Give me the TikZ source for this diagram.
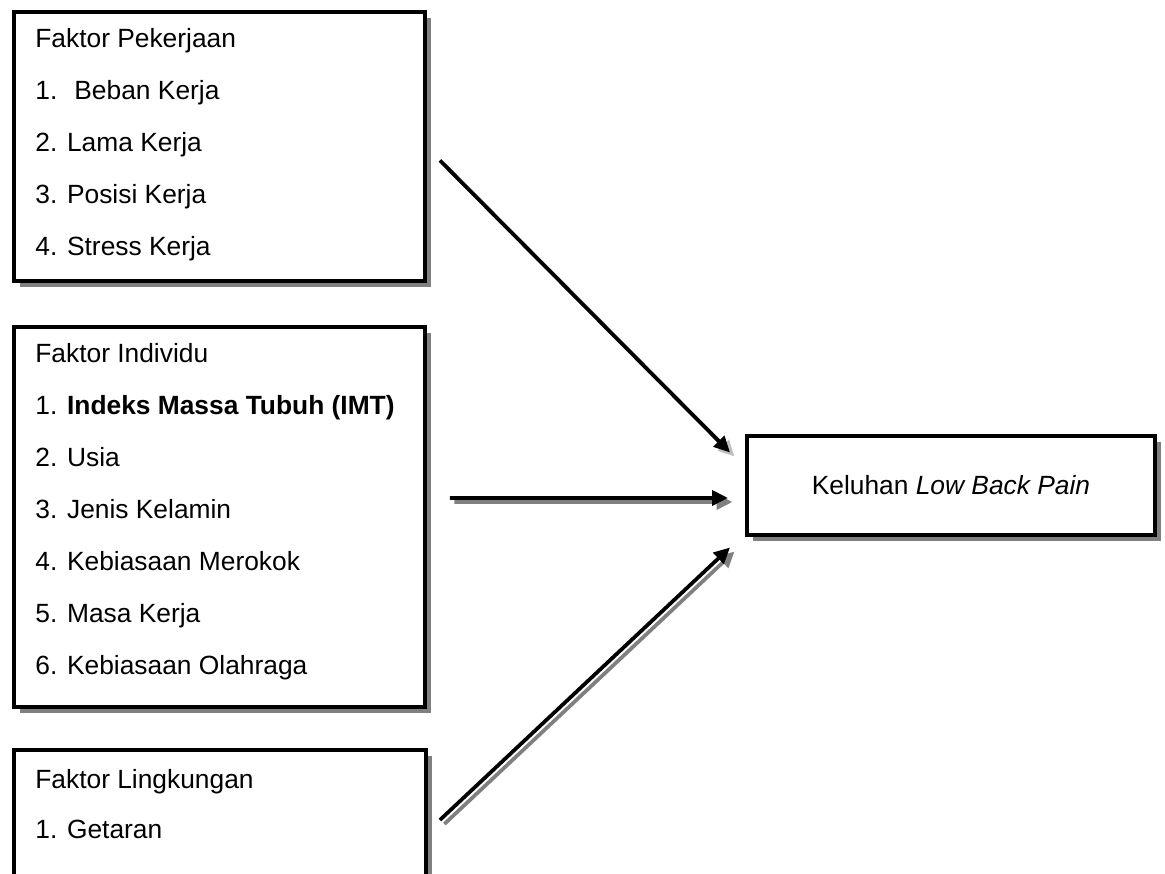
\documentclass[tikz,border=0pt]{standalone}
\usepackage{fontspec}
\setmainfont{Liberation Sans}
\usetikzlibrary{arrows.meta,shadows}
\begin{document}
\begin{tikzpicture}[x=0.02cm,y=-0.02cm,>={Triangle[length=0.32cm,width=0.3cm]},
    kotak/.style={draw,line width=0.08cm,fill=white,anchor=north west,inner sep=0pt,outer sep=0pt,
        drop shadow={shadow xshift=0.12cm,shadow yshift=-0.12cm,fill=gray,opacity=1}},
    baris/.style={anchor=base west,inner sep=0pt,font=\fontsize{15}{18}\selectfont},
    panah/.style={->,line width=0.075cm},
    bayang/.style={panah,draw=gray,fill=gray,transform canvas={xshift=0.09cm,yshift=-0.08cm}}]
    \useasboundingbox(0,0)rectangle(1165,874);
    % kotak faktor
    \node[kotak,minimum width=8.22cm,minimum height=5.38cm](pek)at(14,12){};
    \node[kotak,minimum width=8.22cm,minimum height=7.6cm](ind)at(14,327){};
    \node[kotak,minimum width=8.24cm,minimum height=2.8cm](lin)at(14,750){};
    \node[kotak,minimum width=8.16cm,minimum height=1.98cm,font=\fontsize{15}{18}\selectfont](kel)at(747,436){Keluhan \textit{Low Back Pain}};
    % isi kotak
    \foreach \t[count=\i] in {Faktor Pekerjaan,1.~ Beban Kerja,2. Lama Kerja,3. Posisi Kerja,4. Stress Kerja}
        \node[baris](p\i)at(35,{48+51.8*(\i-1)}){\t};
    \foreach \t[count=\i] in {Faktor Individu,{1. \textbf{Indeks Massa Tubuh (IMT)}},2. Usia,3. Jenis Kelamin,4. Kebiasaan Merokok,5. Masa Kerja,6. Kebiasaan Olahraga}
        \node[baris](n\i)at(35,{362+52*(\i-1)}){\t};
    \foreach \t[count=\i] in {Faktor Lingkungan,1. Getaran}
        \node[baris](l\i)at(35,{788+50*(\i-1)}){\t};
    % panah
    \coordinate(a1)at([shift={(15,14)}]pek.east);
    \coordinate(b1)at([shift={(-17,-33)}]kel.west);
    \coordinate(a2)at([shift={(25,-19)}]ind.east);
    \coordinate(b2)at([shift={(-19,12.5)}]kel.west);
    \coordinate(a3)at([shift={(14,0)}]lin.east);
    \coordinate(b3)at([shift={(-17,62)}]kel.west);
    \draw[bayang,draw=gray!50,fill=gray!50](a1)--(b1);
    \foreach \i in {2,3} \draw[bayang](a\i)--(b\i);
    \foreach \i in {1,2,3} \draw[panah](a\i)--(b\i);
\end{tikzpicture}
\end{document}
